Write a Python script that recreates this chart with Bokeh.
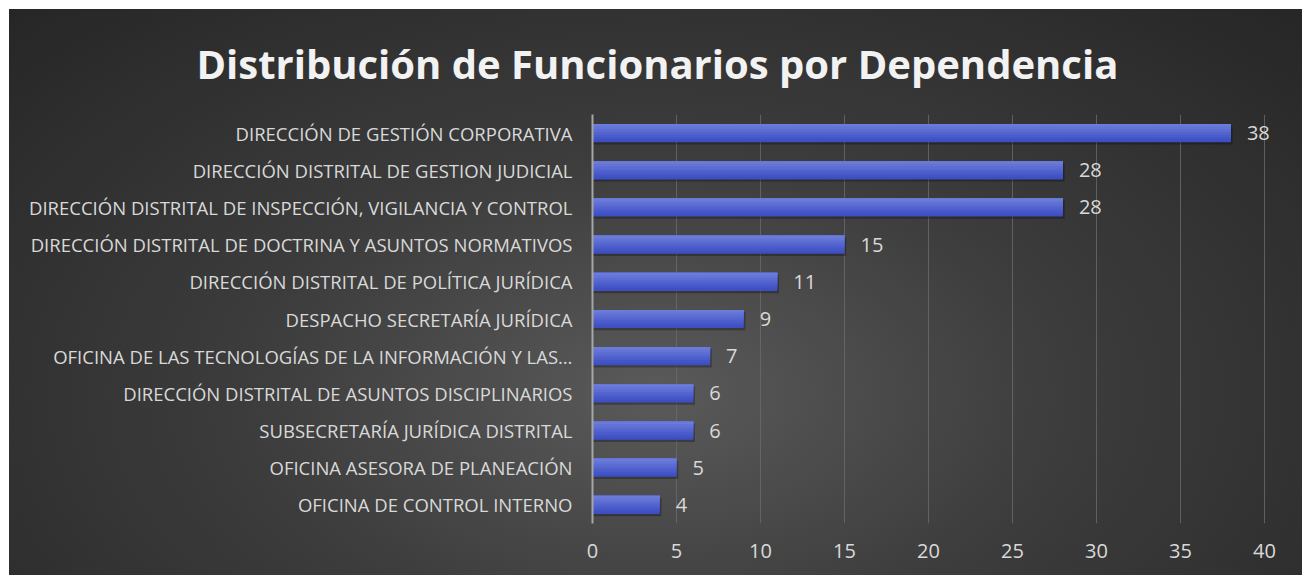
from bokeh.plotting import figure
from bokeh.models import FactorRange, Range1d, Title, ColumnDataSource
from bokeh.transform import dodge
from bokeh.core.properties import value
from bokeh.embed import file_html
from bokeh.resources import INLINE

categories = [
    "DIRECCIÓN DE GESTIÓN CORPORATIVA",
    "DIRECCIÓN DISTRITAL DE GESTION JUDICIAL",
    "DIRECCIÓN DISTRITAL DE INSPECCIÓN, VIGILANCIA Y CONTROL",
    "DIRECCIÓN DISTRITAL DE DOCTRINA Y ASUNTOS NORMATIVOS",
    "DIRECCIÓN DISTRITAL DE POLÍTICA JURÍDICA",
    "DESPACHO SECRETARÍA JURÍDICA",
    "OFICINA DE LAS TECNOLOGÍAS DE LA INFORMACIÓN Y LAS…",
    "DIRECCIÓN DISTRITAL DE ASUNTOS DISCIPLINARIOS",
    "SUBSECRETARÍA JURÍDICA DISTRITAL",
    "OFICINA ASESORA DE PLANEACIÓN",
    "OFICINA DE CONTROL INTERNO",
]
funcionarios = [38, 28, 28, 15, 11, 9, 7, 6, 6, 5, 4]
x_ticks = [0, 5, 10, 15, 20, 25, 30, 35, 40]
title_text = "Distribución de Funcionarios por Dependencia"

FONT = "Open Sans"
src = ColumnDataSource(dict(cat=categories, v=funcionarios,
                            lbl=[str(v) for v in funcionarios]))

p = figure(width=1293, height=566, output_backend="svg", toolbar_location=None,
           y_range=FactorRange(*categories[::-1]), x_range=Range1d(0, 42.26),
           min_border_left=583, min_border_right=0, min_border_top=105,
           min_border_bottom=52)
p.styles = {"background": "radial-gradient(ellipse farthest-corner at 50% 68%, #5a5a5a 0%, #3c3c3c 45%, #262626 100%)",
            "margin-left": "9px", "margin-top": "9px"}
p.background_fill_alpha = 0
p.border_fill_alpha = 0
p.outline_line_color = None

t = Title(text=title_text, align="left", text_font=FONT, text_font_size="40px",
          text_font_style="bold", text_color="#f2f2f2", standoff=48, offset=-396)
p.add_layout(t, "above")

H = 0.49
# soft shadow
p.hbar(y=dodge("cat", -0.06, range=p.y_range), left=0, right=dodge("v", 0.1),
       height=H, source=src, fill_color="black", fill_alpha=0.28, line_color=None)

# vertical gradient built from overlapping layers (bottom colour first)
cols = ["#3d4fc3", "#4455c7", "#4b5ccb", "#5364cf", "#5b6cd3", "#6374d6", "#6a7bd9"]
n = len(cols)
for i, c in enumerate(cols):
    h = H * (n - i) / n
    off = H / 2 - h / 2
    p.hbar(y=dodge("cat", off, range=p.y_range), left=0, right="v",
           height=h, source=src, fill_color=c, line_color=None)

p.text(x="v", y="cat", text="lbl", source=src, x_offset=16, text_baseline="middle",
       text_align="left", text_font=value(FONT), text_font_size="20px",
       text_color="#d9d9d9")

p.xaxis.ticker = x_ticks
p.xaxis.axis_line_color = None
p.xaxis.major_tick_line_color = None
p.xaxis.minor_tick_line_color = None
p.xaxis.major_label_text_font = FONT
p.xaxis.major_label_text_font_size = "20px"
p.xaxis.major_label_text_color = "#d9d9d9"
p.xaxis.major_label_standoff = 14

p.yaxis.axis_line_color = "#a6a6a6"
p.yaxis.axis_line_width = 2
p.yaxis.major_tick_line_color = None
p.yaxis.minor_tick_line_color = None
p.yaxis.major_label_text_font = FONT
p.yaxis.major_label_text_font_size = "18.5px"
p.yaxis.major_label_text_color = "#d9d9d9"
p.yaxis.major_label_standoff = 14

p.xgrid.grid_line_color = "#6a6a6a"
p.xgrid.grid_line_alpha = 0.8
p.xgrid.grid_line_width = 1
p.ygrid.grid_line_color = None

open("out.html", "w").write(file_html(p, INLINE))
